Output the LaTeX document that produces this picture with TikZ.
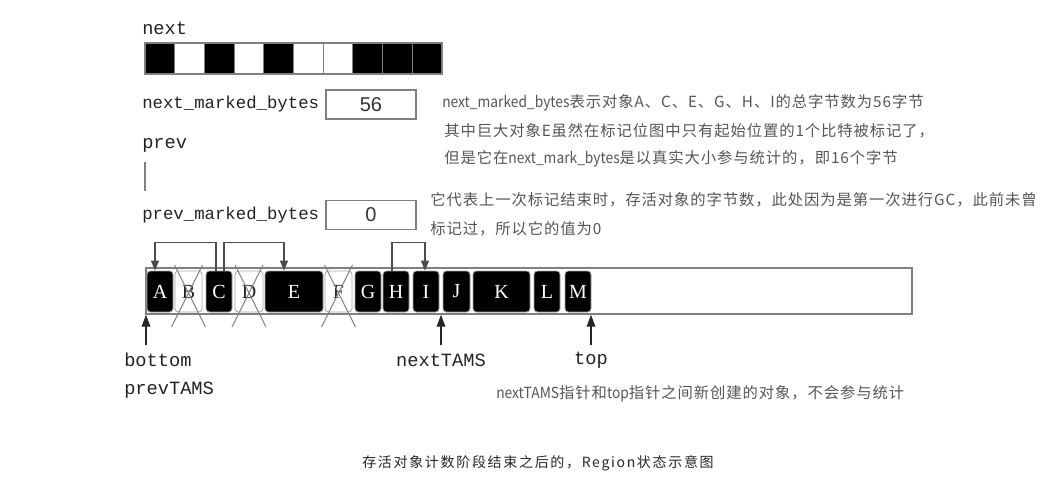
\documentclass[tikz,border=0pt]{standalone}
\usepackage{xcolor}
\usepackage{fontspec}
\setmainfont{Liberation Serif}
\newfontfamily\monofont{Liberation Mono}
\newfontfamily\valfont{Liberation Sans}
\newfontfamily\cjk[LetterSpace=6]{Noto Sans CJK SC}
\newfontfamily\cjkcap[LetterSpace=12]{Noto Sans CJK SC}
\newfontfamily\cjklat[FakeStretch=0.9]{Noto Sans CJK SC}
\usepackage{tikz}
\usetikzlibrary{arrows.meta, positioning, calc}
\definecolor{linegray}{HTML}{808080}
\definecolor{notegray}{HTML}{555555}
\definecolor{labelgray}{HTML}{222222}
\tikzset{
    lbl/.style={anchor=west, inner sep=0pt, text=labelgray, font=\monofont\fontsize{14pt}{16pt}\selectfont},
    bytelbl/.style={lbl, font=\monofont\fontsize{13pt}{15pt}\selectfont},
    valbox/.style={rectangle, draw=linegray, line width=0.9pt, minimum width=67.5pt, minimum height=21.75pt, inner sep=0pt, text=black!80, font=\valfont\fontsize{15pt}{17pt}\selectfont},
    bit/.style={rectangle, draw=linegray, line width=0.8pt, minimum width=22.3pt, minimum height=23.25pt, inner sep=0pt},
    region/.style={rectangle, draw=linegray, line width=1.1pt, minimum width=574.5pt, minimum height=34.5pt, inner sep=0pt},
    live/.style={rectangle, rounded corners=2.5pt, draw=linegray!70, line width=0.6pt, fill=black, text=white, minimum height=30.75pt, inner sep=0pt, font=\fontsize{15pt}{17pt}\selectfont},
    dead/.style={live, fill=white, text=black!85},
    cross/.style={draw=linegray, line width=0.7pt},
    link/.style={-{Triangle[width=6pt,length=7.5pt]}, draw=black!70, line width=0.8pt},
    ptr/.style={-{Triangle[width=6.5pt,length=9pt]}, draw=black!85, line width=0.9pt},
    note/.style={anchor=west, inner sep=0pt, text=notegray, font=\cjk\fontsize{11.5pt}{13pt}\selectfont}
}
\begin{document}
\begin{tikzpicture}[x=0.75pt, y=-0.75pt]
    \useasboundingbox (0,0) rectangle (1040,479);

    % next bitmap
    \node[lbl] (next) at (142,28) {next};
    \foreach \i/\c in {1/black,2/white,3/black,4/white,5/black,6/white,7/white,8/black,9/black,10/black}
        \node[bit, fill=\c] (bit\i) at ({145+29.7*(\i-0.5)},58.5) {};

    \node[bytelbl] (nmb) at (142,104) {next\_marked\_bytes};
    \node[valbox] (nval) at (371,104.5) {56};

    % prev bitmap (empty)
    \node[lbl] (prev) at (142,145) {prev};
    \coordinate (prevtop) at (145,162);
    \coordinate (prevbot) at (145,191);
    \draw[linegray, line width=0.8pt] (prevtop) -- (prevbot);

    \node[bytelbl] (pmb) at (142,215) {prev\_marked\_bytes};
    \node[valbox] (pval) at (371,215) {0};

    % region and objects
    \node[region] (reg) at (529,291) {};
    \foreach \n/\x/\w/\s in {A/160/19.5/live, B/188.5/20.25/dead, C/219/19.5/live,
        D/249/21/dead, E/294/43.5/live, F/338.5/20.25/dead, G/368/19.5/live,
        H/396/19.5/live, I/426/19.5/live, J/456.5/20.25/live, K/501.5/42.75/live,
        L/547/19.5/live, M/578/19.5/live}
        \node[\s, minimum width=\w pt] (\n) at (\x,291.5) {\n};
    \foreach \n in {B,D,F} {
        \draw[cross] ($(\n.center)+(-14,-26.5)$) -- ($(\n.center)+(17,35.5)$);
        \draw[cross] ($(\n.center)+(14,-26.5)$) -- ($(\n.center)+(-17,35.5)$);
    }
    \draw[black!70, line width=0.9pt] ($(I.east)!0.5!(J.west)$ |- reg.north) -- ($(I.east)!0.5!(J.west)$ |- reg.south);

    % references between objects
    \draw[link] ($(C.north)+(-3,0)$) -- ++(0,-28) -| ($(A.north)+(-5,0)$);
    \draw[link] ($(C.north)+(5,0)$) -- ++(0,-28) -| ($(E.north)+(-10,0)$);
    \draw[link] ($(H.north)+(-4,0)$) -- ++(0,-28) -| ($(I.north)+(-1,0)$);

    % pointers
    \coordinate (botp) at (146,345);
    \coordinate (nextp) at (441,345);
    \coordinate (topp) at (591,345);
    \draw[ptr] (botp) -- (botp |- reg.south);
    \draw[ptr] (nextp) -- (nextp |- reg.south);
    \draw[ptr] (topp) -- (topp |- reg.south);
    \node[lbl] (bottom) at (124,360) {bottom};
    \node[lbl] (prevtams) at (124,390) {prevTAMS};
    \node[lbl, anchor=center] (nexttams) at (441,360) {nextTAMS};
    \node[lbl, anchor=center] (top) at (591,360) {top};

    % notes
    \node[note] (note1) at (442,103) {{\cjklat next\_marked\_bytes}表示对象A、C、E、G、H、I的总字节数为56字节};
    \node[note] (note2) at (444,131) {其中巨大对象E虽然在标记位图中只有起始位置的1个比特被标记了，};
    \node[note] (note3) at (444,159) {但是它在{\cjklat next\_mark\_bytes}是以真实大小参与统计的，即16个字节};
    \node[note] (note4) at (430,200) {它代表上一次标记结束时，存活对象的字节数，此处因为是第一次进行GC，此前未曾};
    \node[note] (note5) at (430,229) {标记过，所以它的值为0};
    \node[note] (note6) at (496,394) {{\cjklat nextTAMS}指针和{\cjklat top}指针之间新创建的对象，不会参与统计};

    \node[note, anchor=center, text=black!85, font=\cjkcap\fontsize{10.5pt}{12pt}\selectfont] (caption) at (538,463) {存活对象计数阶段结束之后的，Region状态示意图};
\end{tikzpicture}
\end{document}
